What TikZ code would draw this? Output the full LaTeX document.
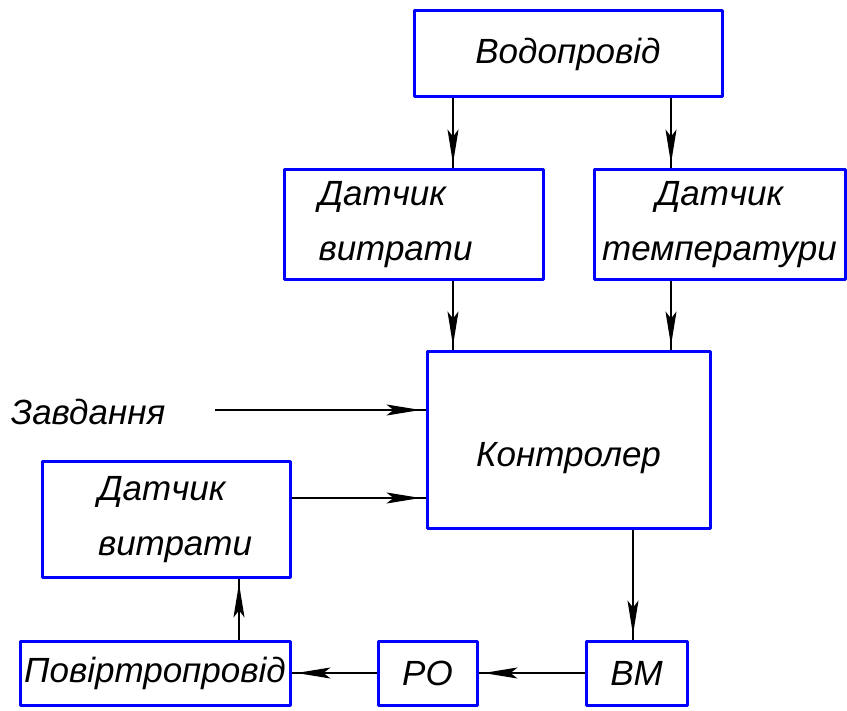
\documentclass[tikz,border=0pt]{standalone}
\usepackage{fontspec}
\setmainfont{Liberation Sans}
\usetikzlibrary{arrows.meta,positioning}
\tikzset{
  blok/.style={draw=blue,line width=1.5pt,line join=round,inner sep=0pt,
    font=\itshape\fontsize{17.5}{27.5}\selectfont},
  lin/.style={line width=0.7pt},
  arr/.style={lin,-{Stealth[length=17pt,width=5.5pt,inset=3.5pt]},shorten >=2.5pt,
    postaction={draw,-,shorten >=0pt}}
}
\begin{document}
\begin{tikzpicture}[x=0.5pt,y=-0.5pt]
    \useasboundingbox (0,0) rectangle (847,711);
    \node[blok,minimum width=154pt,minimum height=43pt] (vodo) at (568,54) {Водопровід};
    \node[blok,minimum width=129.5pt,minimum height=55pt,align=left,text width=95pt] (dv1) at (413.5,225) {Датчик\\витрати};
    \node[blok,minimum width=125.5pt,minimum height=55pt,align=center] (dt) at (719.5,225) {Датчик\\температури};
    \node[blok,minimum width=141.5pt,minimum height=88pt,text height=30pt] (kontr) at (568.5,440) {Контролер};
    \node[font=\itshape\fontsize{17.5}{27.5}\selectfont,inner sep=0pt] (zavd) at (88,412) {Завдання};
    \node[blok,minimum width=124pt,minimum height=57.5pt,align=left,text width=68pt] (dv2) at (166,519.5) {Датчик\\витрати};
    \node[blok,minimum width=135pt,minimum height=32pt] (povitr) at (155,673) {Повіртропровід};
    \node[blok,minimum width=49.5pt,minimum height=32pt] (ro) at (427.5,673) {РО};
    \node[blok,minimum width=50.5pt,minimum height=32pt] (bm) at (636.5,673) {ВМ};
    \coordinate (zs) at (215,410);
    % connectors
    \draw[arr] (453,0 |- vodo.south) -- (453,0 |- dv1.north);
    \draw[arr] (671,0 |- vodo.south) -- (671,0 |- dt.north);
    \draw[arr] (453,0 |- dv1.south) -- (453,0 |- kontr.north);
    \draw[arr] (671,0 |- dt.south) -- (671,0 |- kontr.north);
    \draw[arr] (zs) -- (zs -| kontr.west);
    \draw[arr] (0,498 -| dv2.east) -- (0,498 -| kontr.west);
    \draw[arr] (633,0 |- kontr.south) -- (633,0 |- bm.north);
    \draw[arr] (bm.west) -- (ro.east);
    \draw[arr] (ro.west) -- (povitr.east);
    \draw[arr] (239,0 |- povitr.north) -- (239,0 |- dv2.south);
\end{tikzpicture}
\end{document}
